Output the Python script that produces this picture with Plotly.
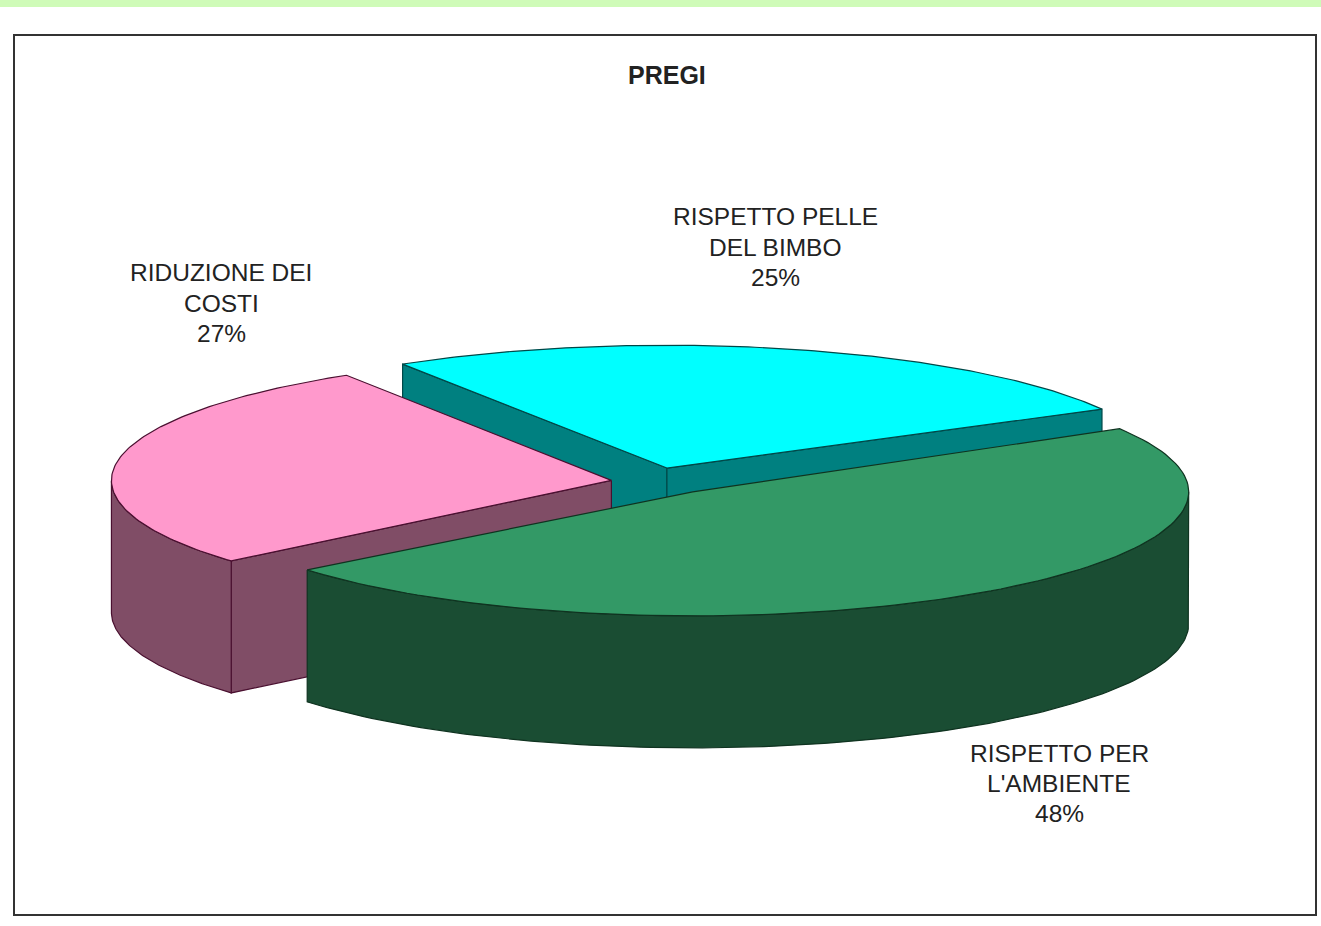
import numpy as np
import plotly.graph_objects as go

# --- data ---
categories = [["RISPETTO PELLE", "DEL BIMBO"], ["RISPETTO PER", "L'AMBIENTE"], ["RIDUZIONE DEI", "COSTI"]]
values = [25, 48, 27]
top_colors = ["#00FFFF", "#339966", "#FF99CC"]
side_colors = ["#008080", "#1A4D33", "#804D66"]
edge_colors = ["#004848", "#0F3320", "#4A1030"]
label_pos = [(775, 247), (1059, 783.5), (221, 303)]

# --- pie projection (pixel-space axes) ---
CX, CY = 663, 481
A0, B0 = 496, 124
DEPTH = 132
EXPLODE = 0.116
START = 121.0
# perspective corrections of each slice: rim angles (deg), centre (px), radii scale
ANGLE_NUDGE = [(1.2, -2.3), (-0.4, 0.8), (2.3, 1.0)]
CENTER_NUDGE = [(-10, 1), (-3, -1), (5, 2)]
RADIUS_SCALE = [(1.0, 0.99), (1.0, 1.0), (1.008, 1.0)]
LINE_STEP = 30.3
FONT = "Liberation Sans, Arial, sans-serif"

fig = go.Figure()


def poly(xs, ys, fill, edge):
    fig.add_trace(go.Scatter(x=xs, y=ys, mode="lines", fill="toself", fillcolor=fill,
                             line=dict(color=edge, width=1.2), hoverinfo="skip", showlegend=False))


total = sum(values)
ang = START
slices = []
for v in values:
    sweep = 360.0 * v / total
    slices.append((ang, ang - sweep))
    ang -= sweep


def center(a0, a1, nudge):
    mid = np.radians((a0 + a1) / 2)
    return (CX + EXPLODE * A0 * np.cos(mid) + nudge[0],
            CY - EXPLODE * B0 * np.sin(mid) + nudge[1])


def arc(cx, cy, a0, a1, scale, n=120):
    t = np.radians(np.linspace(a0, a1, n))
    return cx + A0 * scale[0] * np.cos(t), cy - B0 * scale[1] * np.sin(t)


def radial_wall(cx, cy, a, scale, fill, edge):
    x, y = arc(cx, cy, a, a, scale, 1)
    poly([cx, x[0], x[0], cx, cx], [cy, y[0], y[0] + DEPTH, cy + DEPTH, cy], fill, edge)


def outer_wall(cx, cy, a0, a1, scale, fill, edge):
    # only the part of the rim facing the viewer (angles 180..360)
    lo = min(a0, a1) % 360
    hi = lo + abs(a0 - a1)
    s, e = max(lo, 180), min(hi, 360)
    if e <= s:
        return
    x, y = arc(cx, cy, s, e, scale)
    poly(list(x) + list(x[::-1]) + [x[0]], list(y) + list(y[::-1] + DEPTH) + [y[0]], fill, edge)


# drawing order, back to front: cyan, pink, green
for i in (0, 2, 1):
    a0, a1 = slices[i]
    cx, cy = center(a0, a1, CENTER_NUDGE[i])
    a0, a1 = a0 + ANGLE_NUDGE[i][0], a1 + ANGLE_NUDGE[i][1]
    sc = RADIUS_SCALE[i]
    if i == 0:
        radial_wall(cx, cy, a0, sc, side_colors[i], edge_colors[i])
        radial_wall(cx, cy, a1, sc, side_colors[i], edge_colors[i])
    if i == 2:
        radial_wall(cx, cy, a0, sc, side_colors[i], edge_colors[i])
    outer_wall(cx, cy, a0, a1, sc, side_colors[i], edge_colors[i])
    x, y = arc(cx, cy, a0, a1, sc)
    poly([cx] + list(x) + [cx], [cy] + list(y) + [cy], top_colors[i], edge_colors[i])

annotations = []
for lines, v, (lx, ly) in zip(categories, values, label_pos):
    rows = lines + [f"{v}%"]
    for k, row in enumerate(rows):
        annotations.append(dict(x=lx, y=ly + (k - (len(rows) - 1) / 2) * LINE_STEP, text=row,
                                showarrow=False, xref="x", yref="y",
                                font=dict(family=FONT, size=24.5, color="#222222")))
annotations.append(dict(x=667, y=75, text="<b>PREGI</b>", showarrow=False, xref="x", yref="y",
                        font=dict(family=FONT, size=25, color="#222222")))

fig.update_layout(
    width=1321, height=926, autosize=False,
    margin=dict(l=0, r=0, t=0, b=0),
    paper_bgcolor="white", plot_bgcolor="white",
    xaxis=dict(range=[0, 1321], visible=False, fixedrange=True),
    yaxis=dict(range=[926, 0], visible=False, fixedrange=True),
    annotations=annotations,
    shapes=[
        dict(type="rect", x0=0, x1=1321, y0=0, y1=7, line_width=0, fillcolor="#CFFBB8", layer="below"),
        dict(type="rect", x0=14, x1=1316, y0=35, y1=915, line=dict(color="#333333", width=2), layer="below"),
    ],
)
fig.write_html("out.html", config={"displayModeBar": False},
               post_script="document.body.style.margin='0';document.documentElement.style.overflow='hidden';")
